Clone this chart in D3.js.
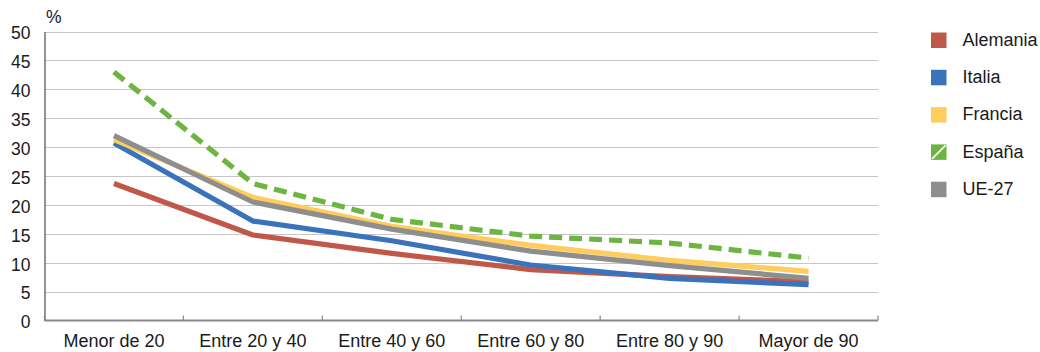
<!DOCTYPE html>
<html>
<head>
<meta charset="utf-8">
<script src="https://cdn.jsdelivr.net/npm/d3@7/dist/d3.min.js"></script>
<style>
  html, body { margin: 0; padding: 0; background: #fff; }
  svg { display: block; font-family: "Liberation Sans", Arial, Helvetica, sans-serif; }
</style>
</head>
<body>
<svg id="chart" width="1040" height="352"></svg>
<script>
// Age bands and the share (%) for each country
const categories = ["Menor de 20", "Entre 20 y 40", "Entre 40 y 60", "Entre 60 y 80", "Entre 80 y 90", "Mayor de 90"];
const alemania = [23.7, 14.8, 11.6, 8.8, 7.6, 6.7];
const italia   = [30.7, 17.2, 13.8, 9.6, 7.3, 6.2];
const francia  = [31.3, 21.3, 16.3, 13.0, 10.4, 8.5];
const espana   = [43.0, 23.7, 17.5, 14.6, 13.4, 10.8];
const ue27     = [32.0, 20.5, 15.8, 12.0, 9.5, 7.3];
const yTicks   = [0, 5, 10, 15, 20, 25, 30, 35, 40, 45, 50];

const series = [
  { name: "Alemania", values: alemania, color: "#c0584a", dash: null },
  { name: "Italia",   values: italia,   color: "#3a72bb", dash: null },
  { name: "Francia",  values: francia,  color: "#fecd5b", dash: null },
  { name: "España",   values: espana,   color: "#6db542", dash: "13,7" },
  { name: "UE-27",    values: ue27,     color: "#8e8e8e", dash: null }
];

const svg = d3.select("#chart");
const plot = { left: 44.5, right: 878, top: 31.5, bottom: 320.5 };
const fontSize = 17.5;

const x = d3.scaleBand().domain(categories).range([plot.left, plot.right]);
const y = d3.scaleLinear().domain([0, 50]).range([plot.bottom, plot.top]);

// Horizontal gridlines
svg.append("g")
  .selectAll("line")
  .data(yTicks.filter(d => d > 0))
  .join("line")
  .attr("x1", plot.left).attr("x2", plot.right)
  .attr("y1", d => Math.round(y(d)) + 0.5).attr("y2", d => Math.round(y(d)) + 0.5)
  .attr("stroke", "#c6c6c6").attr("stroke-width", 1.2);

// Y axis
const yAxis = svg.append("g")
  .attr("transform", `translate(${plot.left},0)`)
  .call(d3.axisLeft(y).tickValues(yTicks).tickSize(0).tickPadding(14));
yAxis.select(".domain").attr("stroke", "#888").attr("stroke-width", 1.8);
yAxis.selectAll("text").attr("font-size", fontSize).attr("fill", "#1a1a1a")
  .attr("dy", "0.42em")
  .attr("font-family", "\"Liberation Sans\", Arial, sans-serif");

svg.append("text")
  .attr("x", 46).attr("y", 23)
  .attr("font-size", fontSize).attr("fill", "#1a1a1a")
  .text("%");

// X axis with ticks at the band boundaries
const xAxis = svg.append("g")
  .attr("transform", `translate(0,${plot.bottom})`);
xAxis.append("line")
  .attr("x1", plot.left).attr("x2", plot.right)
  .attr("stroke", "#888").attr("stroke-width", 1.8);
const boundaries = categories.map(c => x(c)).concat([x.range()[1]]);
xAxis.selectAll("line.tick")
  .data(boundaries)
  .join("line").attr("class", "tick")
  .attr("x1", d => d).attr("x2", d => d)
  .attr("y1", 0).attr("y2", -5)
  .attr("stroke", "#888").attr("stroke-width", 1.2);
xAxis.selectAll("text")
  .data(categories)
  .join("text")
  .attr("x", d => x(d) + x.bandwidth() / 2)
  .attr("y", 26.5)
  .attr("text-anchor", "middle")
  .attr("font-size", 18).attr("fill", "#1a1a1a")
  .text(d => d);

// Lines
const line = d3.line()
  .x((d, i) => x(categories[i]) + x.bandwidth() / 2)
  .y(d => y(d));

svg.append("g")
  .selectAll("path")
  .data(series)
  .join("path")
  .attr("d", d => line(d.values))
  .attr("fill", "none")
  .attr("stroke", d => d.color)
  .attr("stroke-width", 5.2)
  .attr("stroke-linejoin", "round")
  .attr("stroke-dasharray", d => d.dash);

// Legend
const legend = svg.append("g").attr("transform", "translate(931,0)");
const rows = legend.selectAll("g")
  .data(series)
  .join("g")
  .attr("transform", (d, i) => `translate(0,${32.5 + i * 37.3})`);
rows.append("rect")
  .attr("width", 15.5).attr("height", 15.5)
  .attr("fill", d => d.color);
rows.filter(d => d.dash)
  .append("line")
  .attr("x1", 1).attr("y1", 14.5).attr("x2", 14.5).attr("y2", 1)
  .attr("stroke", "#fff").attr("stroke-width", 1.6);
rows.append("text")
  .attr("x", 31.5).attr("y", 13.3)
  .attr("font-size", 18).attr("fill", "#1a1a1a")
  .text(d => d.name);
</script>
</body>
</html>
